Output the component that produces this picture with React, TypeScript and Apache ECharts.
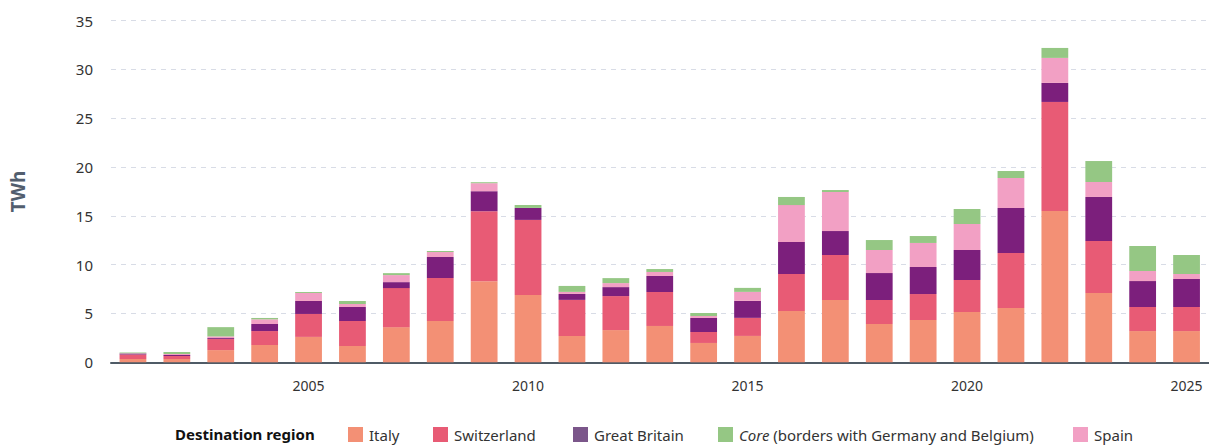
import React, { useEffect, useRef } from "react";
import * as echarts from "echarts";

const years = ["2001","2002","2003","2004","2005","2006","2007","2008","2009","2010","2011","2012","2013","2014","2015","2016","2017","2018","2019","2020","2021","2022","2023","2024","2025"];
const italy = [0.35,0.35,1.25,1.77,2.6,1.67,3.6,4.23,8.3,6.9,2.7,3.3,3.72,1.98,2.7,5.25,6.38,3.92,4.33,5.15,5.56,15.5,7.1,3.2,3.2];
const switzerland = [0.45,0.3,1.13,1.43,2.35,2.56,4.0,4.4,7.17,7.68,3.69,3.48,3.48,1.12,1.85,3.79,4.61,2.46,2.66,3.28,5.63,11.16,5.32,2.46,2.46];
const greatBritain = [0.1,0.1,0.1,0.72,1.33,1.43,0.61,2.15,2.05,1.23,0.61,0.92,1.64,1.44,1.74,3.28,2.45,2.76,2.77,3.07,4.61,1.95,4.51,2.66,2.87];
const spain = [0.02,0.1,0.17,0.48,0.82,0.31,0.72,0.51,0.82,0,0.21,0.41,0.41,0.2,0.92,3.78,4.0,2.36,2.46,2.66,3.07,2.56,1.53,1.03,0.51];
const core = [0.08,0.2,0.95,0.14,0.1,0.31,0.2,0.11,0.1,0.3,0.61,0.51,0.3,0.31,0.41,0.83,0.2,1.02,0.71,1.54,0.72,1.02,2.15,2.56,1.95];
const yTicks = [0, 5, 10, 15, 20, 25, 30, 35];

const CORE = "Core (borders with Germany and Belgium)";
const colors: Record<string, string> = {
  Italy: "#f39075",
  Switzerland: "#e85b75",
  "Great Britain": "#7c1f7c",
  [CORE]: "#95c784",
  Spain: "#f2a0c4",
};
const legendColors: Record<string, string> = {
  Italy: "#f39075",
  Switzerland: "#e85b75",
  "Great Britain": "#7b568a",
  [CORE]: "#95c784",
  Spain: "#f2a0c4",
};
const legendLeft: Record<string, number> = {
  Italy: 348,
  Switzerland: 433,
  "Great Britain": 573,
  [CORE]: 718,
  Spain: 1073,
};

const FONT = "'Noto Sans', sans-serif";

export default function App() {
  const ref = useRef<HTMLDivElement>(null);
  useEffect(() => {
    if (!ref.current) return;
    const chart = echarts.init(ref.current, null, { renderer: "svg" });
    const stackSeries = [
      { name: "Italy", data: italy },
      { name: "Switzerland", data: switzerland },
      { name: "Great Britain", data: greatBritain },
      { name: "Spain", data: spain },
      { name: CORE, data: core },
    ];
    const legendOrder = ["Italy", "Switzerland", "Great Britain", CORE, "Spain"];
    chart.setOption({
      animation: false,
      grid: { left: 109.5, right: 0.5, top: 20.5, bottom: 83.7 },
      graphic: [
        {
          type: "text",
          left: 175,
          top: 426,
          style: {
            text: "Destination region",
            font: `bold 15px ${FONT}`,
            fill: "#111",
          },
        },
      ],
      legend: legendOrder.map((name) => ({
        data: [{ name, itemStyle: { color: legendColors[name] } }],
        left: legendLeft[name],
        top: 427,
        itemWidth: 15,
        itemHeight: 15,
        itemGap: 0,
        icon: "rect",
        selectedMode: false,
        padding: 0,
        textStyle: {
          fontFamily: FONT,
          fontSize: 15,
          color: "#333",
          padding: [0, 0, 0, 1],
          rich: {
            i: { fontStyle: "italic", fontFamily: FONT, fontSize: 15, color: "#333" },
            n: { fontFamily: FONT, fontSize: 15, color: "#333" },
          },
        },
        formatter: (n: string) =>
          n === CORE ? "{i|Core}{n| (borders with Germany and Belgium)}" : n,
      })),
      xAxis: {
        type: "category",
        data: years,
        axisLine: { lineStyle: { color: "#4f5b66", width: 2 } },
        axisTick: { show: false },
        axisLabel: {
          interval: (_i: number, v: string) => Number(v) % 5 === 0,
          fontFamily: FONT,
          fontSize: 14,
          color: "#333",
          margin: 16,
        },
      },
      yAxis: {
        type: "value",
        min: yTicks[0],
        max: yTicks[yTicks.length - 1],
        interval: 5,
        name: "TWh",
        nameLocation: "middle",
        nameGap: 84,
        nameTextStyle: {
          fontFamily: FONT,
          fontSize: 19,
          fontWeight: "bold",
          color: "#525e6e",
        },
        axisLabel: {
          fontFamily: FONT,
          fontSize: 15,
          color: "#333",
          margin: 18,
        },
        splitLine: { lineStyle: { color: "#d8dce6", type: [5, 5], width: 1 } },
      },
      series: stackSeries.map((s) => ({
        name: s.name,
        type: "bar",
        stack: "total",
        data: s.data,
        barWidth: "61%",
        itemStyle: { color: colors[s.name] },
      })),
    });
    return () => chart.dispose();
  }, []);
  return (
    <div
      ref={ref}
      style={{ position: "fixed", left: 0, top: 0, width: 1209, height: 446, background: "#fff" }}
    />
  );
}
